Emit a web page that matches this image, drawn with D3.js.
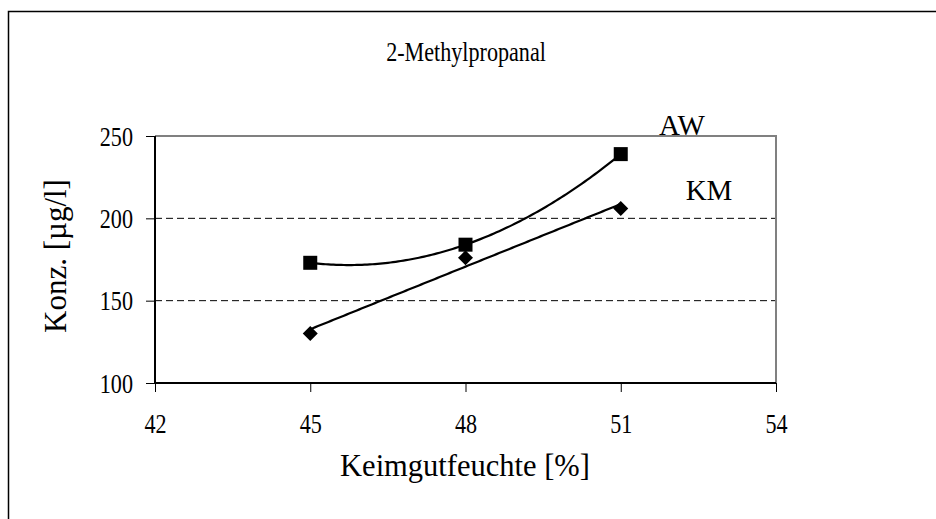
<!DOCTYPE html>
<html><head><meta charset="utf-8">
<script src="https://cdn.jsdelivr.net/npm/d3@7"></script>
<style>body{margin:0;background:#fff}svg{display:block}text{font-family:"Liberation Serif","Times New Roman",serif;fill:#000}</style>
</head><body><svg id="c" width="936" height="519"></svg>
<script>
const xValues = [45, 48, 51];
const awValues = [173, 184, 239];
const kmValues = [130, 176, 206];
const xTicks = [42, 45, 48, 51, 54];
const yTicks = [100, 150, 200, 250];
const gridValues = [150, 200];
const title = "2-Methylpropanal";
const xTitle = "Keimgutfeuchte [%]";
const yTitle = "Konz. [µg/l]";

const svg = d3.select("#c");
const L = 155, R = 776, T = 136, B = 383;
const x = d3.scaleLinear().domain([42, 54]).range([L, R]);
const y = d3.scaleLinear().domain([100, 250]).range([B, T]);
const SX = 0.82;

// outer frame
svg.append("rect").attr("x", 8.5).attr("y", 11.5).attr("width", 1000).attr("height", 600)
  .attr("fill", "none").attr("stroke", "#000").attr("stroke-width", 1.5);

// gridlines
svg.selectAll(".grid").data(gridValues).join("line")
  .attr("x1", L).attr("x2", R).attr("y1", d => y(d)).attr("y2", d => y(d))
  .attr("stroke", "#000").attr("stroke-width", 1).attr("stroke-dasharray", "7,4");

// plot border top/right grey
svg.append("path").attr("d", `M${L},${T}H${R}V${B}`).attr("fill", "none")
  .attr("stroke", "#808080").attr("stroke-width", 2);

// axes
const yAxis = d3.axisLeft(y).tickValues(yTicks).tickSize(9).tickFormat(d3.format("d"));
const gy = svg.append("g").attr("transform", `translate(${L},0)`).call(yAxis);
const xAxis = d3.axisBottom(x).tickValues(xTicks).tickSize(9).tickFormat(d3.format("d"));
const gx = svg.append("g").attr("transform", `translate(0,${B})`).call(xAxis);
[gx, gy].forEach(g => {
  g.select(".domain").attr("stroke", "#000").attr("stroke-width", 2);
  g.selectAll(".tick line").attr("stroke", "#000").attr("stroke-width", 1);
  g.selectAll(".tick text").style("font-family", '"Liberation Serif",serif').style("font-size", "27px").attr("fill", "#000");
});
gy.select(".domain").attr("d", `M0,${T}V${B}`);
gx.select(".domain").attr("d", `M${L},0H${R}`);
gy.selectAll(".tick text").attr("x", -22 / SX).attr("dy", "0.34em").attr("transform", `scale(${SX},1)`);
gx.selectAll(".tick text").attr("y", 50).attr("dy", 0).attr("transform", `scale(${SX},1)`);

// trendlines
function polyFit(xs, ys, deg) {
  const n = deg + 1;
  const A = Array.from({length: n}, () => Array(n + 1).fill(0));
  xs.forEach((xv, k) => {
    for (let i = 0; i < n; i++) {
      for (let j = 0; j < n; j++) A[i][j] += Math.pow(xv, i + j);
      A[i][n] += ys[k] * Math.pow(xv, i);
    }
  });
  for (let i = 0; i < n; i++) {
    let p = i;
    for (let r = i + 1; r < n; r++) if (Math.abs(A[r][i]) > Math.abs(A[p][i])) p = r;
    [A[i], A[p]] = [A[p], A[i]];
    for (let r = 0; r < n; r++) if (r !== i) {
      const f = A[r][i] / A[i][i];
      for (let c = i; c <= n; c++) A[r][c] -= f * A[i][c];
    }
  }
  const coef = A.map((row, i) => row[n] / row[i]);
  return xv => coef.reduce((s, c, i) => s + c * Math.pow(xv, i), 0);
}
const fAW = polyFit(xValues, awValues, 2);
const fKM = polyFit(xValues, kmValues, 1);
const xs = d3.range(xValues[0], xValues[xValues.length - 1] + 0.001, 0.05);
const line = d3.line().x(d => x(d[0])).y(d => y(d[1]));
svg.append("path").attr("d", line(xs.map(v => [v, fAW(v)]))).attr("fill", "none").attr("stroke", "#000").attr("stroke-width", 2.2);
svg.append("path").attr("d", line(xs.map(v => [v, fKM(v)]))).attr("fill", "none").attr("stroke", "#000").attr("stroke-width", 2.2);

// markers
svg.selectAll(".sq").data(xValues.map((v, i) => [v, awValues[i]])).join("rect")
  .attr("x", d => x(d[0]) - 7).attr("y", d => y(d[1]) - 7).attr("width", 14).attr("height", 14).attr("fill", "#000");
svg.selectAll(".dm").data(xValues.map((v, i) => [v, kmValues[i]])).join("path")
  .attr("d", d => `M${x(d[0])},${y(d[1]) - 7.5}l7.5,7.5l-7.5,7.5l-7.5,-7.5z`).attr("fill", "#000");

// texts
svg.append("text").attr("transform", `translate(466,61) scale(${SX},1)`).attr("text-anchor", "middle").style("font-size", "27px").text(title);
svg.append("text").attr("x", 465).attr("y", 476).attr("text-anchor", "middle").style("font-size", "30.5px").text(xTitle);
svg.append("text").attr("transform", "translate(66,256) rotate(-90)").attr("text-anchor", "middle").style("font-size", "31px").text(yTitle);
svg.append("text").attr("x", 682).attr("y", 135).attr("text-anchor", "middle").style("font-size", "29px").text("AW");
svg.append("text").attr("x", 709).attr("y", 200).attr("text-anchor", "middle").style("font-size", "29px").text("KM");
</script></body></html>
